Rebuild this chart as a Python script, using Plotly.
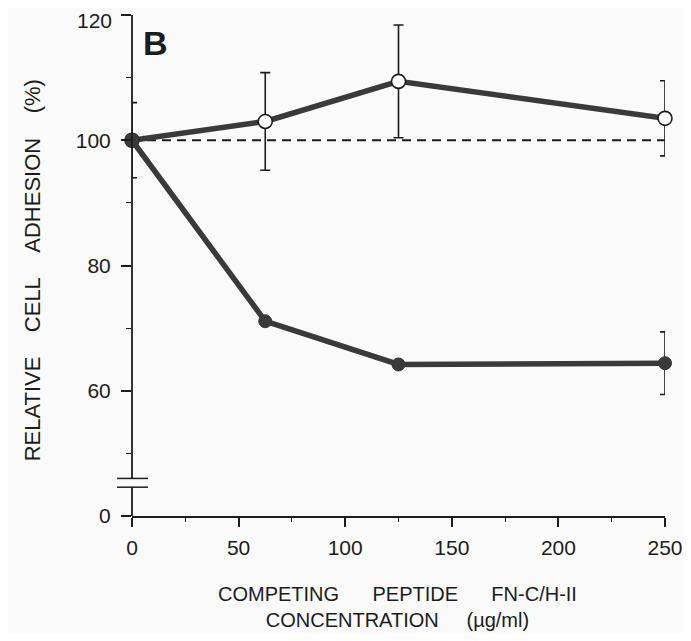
import plotly.graph_objects as go

# ---- data ----
conc = [0, 62.5, 125, 250]                      # µg/ml
control_adh = [100, 103.0, 109.4, 103.5]        # open circles
control_err = [None, 7.8, 9.0, 6.0]
fnch2_adh = [100, 71.1, 64.2, 64.4]             # filled circles
fnch2_err = [6.0, None, None, 5.0]
baseline_x = [0, 250]
baseline_y = [100, 100]

x_ticks = [0, 50, 100, 150, 200, 250]
x_minor = [25, 75, 125, 175, 225]
y_ticks = [40, 60, 80, 100, 120]               # 40 position carries the broken-axis "0"
y_ticktext = ["0", "60", "80", "100", ""]      # top label "120" placed below as text
y_top_label = "120"
y_minor = [50, 70, 90, 110]

INK = "#1c1c1c"
LINE = "#3a3a3a"
BG = "#fafafa"
FONT = "Liberation Sans, Arial, sans-serif"

fig = go.Figure()

fig.add_trace(go.Scatter(
    x=baseline_x, y=baseline_y, mode="lines",
    line=dict(color=INK, width=2.2, dash="9px,6px"),
    hoverinfo="skip", showlegend=False, cliponaxis=False))

fig.add_trace(go.Scatter(
    x=conc, y=control_adh, mode="lines+markers",
    line=dict(color=LINE, width=5.5),
    marker=dict(symbol="circle", size=14, color="white", line=dict(color=INK, width=1.6)),
    error_y=dict(type="data", array=control_err, visible=True, color=INK, thickness=1.6, width=5),
    showlegend=False, cliponaxis=False))

fig.add_trace(go.Scatter(
    x=conc, y=fnch2_adh, mode="lines+markers",
    line=dict(color=LINE, width=5.5),
    marker=dict(symbol="circle", size=13, color=LINE, line=dict(color=LINE, width=1)),
    error_y=dict(type="data", array=fnch2_err, visible=True, color=INK, thickness=1.6, width=5),
    showlegend=False, cliponaxis=False))

# broken y axis line and break marks
shapes = [
    dict(type="line", xref="paper", yref="y", x0=0, x1=0, y0=46.0, y1=120,
         line=dict(color=INK, width=1.8)),
    dict(type="line", xref="paper", yref="y", x0=0, x1=0, y0=40, y1=44.6,
         line=dict(color=INK, width=1.8)),
    dict(type="line", xref="paper", yref="y", x0=-0.028, x1=0.03, y0=46.0, y1=46.0,
         line=dict(color=INK, width=1.5)),
    dict(type="line", xref="paper", yref="y", x0=-0.028, x1=0.03, y0=44.6, y1=44.6,
         line=dict(color=INK, width=1.5)),
]

NB = "\u00a0"
annotations = [
    dict(text=y_top_label, xref="paper", yref="paper", x=-0.036, y=1.0139,
         xanchor="right", yanchor="top", showarrow=False, borderpad=0,
         font=dict(family=FONT, size=21, color=INK)),
    dict(text="<b>B</b>", xref="paper", yref="paper", x=0.044, y=0.944,
         xanchor="center", yanchor="middle", showarrow=False,
         font=dict(family=FONT, size=34, color=INK)),
    dict(text=f"RELATIVE{NB*4}CELL{NB*4}ADHESION{NB*4}(%)", xref="paper", yref="paper",
         x=-0.186, y=0.49, textangle=-90, xanchor="center", yanchor="middle",
         showarrow=False, font=dict(family=FONT, size=22, color=INK)),
    dict(text=f"COMPETING{NB*6}PEPTIDE{NB*6}FN-C/H-II<br>CONCENTRATION{NB*5}(µg/ml)",
         xref="paper", yref="paper", x=0.498, y=-0.2315, xanchor="center", yanchor="bottom",
         align="center", showarrow=False, borderpad=0,
         font=dict(family=FONT, size=20, color=INK)),
]

# page body adds an 8px margin; keep the figure inside the 691x641 window
fig.update_layout(
    width=675, height=625,
    margin=dict(l=124, r=18, t=7, b=117, autoexpand=False),
    paper_bgcolor=BG, plot_bgcolor=BG,
    font=dict(family=FONT, size=21, color=INK),
    shapes=shapes, annotations=annotations,
    xaxis=dict(range=[0, 250], tickmode="array", tickvals=x_ticks,
               ticktext=[str(v) for v in x_ticks], automargin=False,
               showgrid=False, zeroline=False, showline=True, linecolor=INK, linewidth=1.8,
               ticks="outside", ticklen=9, tickwidth=1.6, tickcolor=INK,
               ticklabelstandoff=3, ticklabeloverflow="allow",
               minor=dict(tickmode="array", tickvals=x_minor, ticks="outside",
                          ticklen=4, tickwidth=1.4, tickcolor=INK, showgrid=False),
               tickfont=dict(family=FONT, size=21, color=INK)),
    yaxis=dict(range=[40, 120], tickmode="array", tickvals=y_ticks, ticktext=y_ticktext,
               automargin=False,
               showgrid=False, zeroline=False, showline=False,
               ticks="outside", ticklen=10, tickwidth=1.6, tickcolor=INK,
               ticklabelstandoff=6, ticklabeloverflow="allow",
               minor=dict(tickmode="array", tickvals=y_minor, ticks="outside",
                          ticklen=5, tickwidth=1.4, tickcolor=INK, showgrid=False),
               tickfont=dict(family=FONT, size=21, color=INK)),
)

fig.write_html("out.html")
